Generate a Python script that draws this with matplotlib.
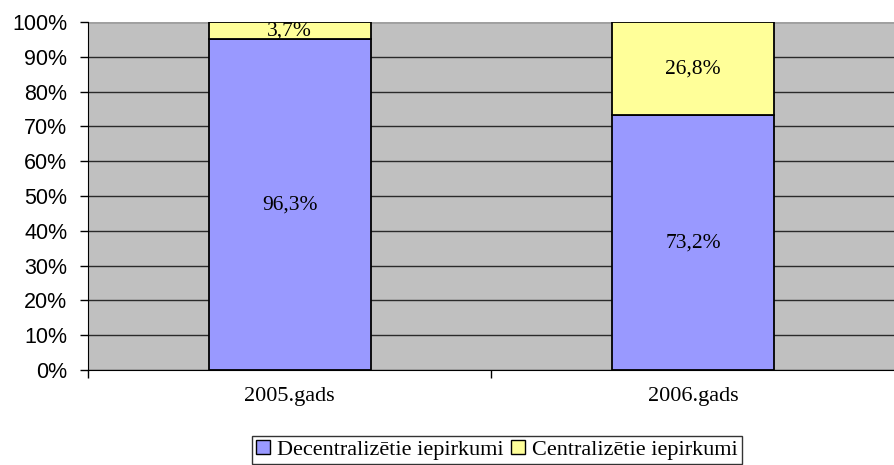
import matplotlib
matplotlib.use("Agg")
import matplotlib.pyplot as plt
from matplotlib.patches import Patch
import numpy as np

categories = ["2005.gads", "2006.gads"]
decentral = [95.0, 73.2]
central = [5.0, 26.8]
decentral_labels = ["96,3%", "73,2%"]
central_labels = ["3,7%", "26,8%"]
series_names = ["Decentralizētie iepirkumi", "Centralizētie iepirkumi"]
yticks = [0, 10, 20, 30, 40, 50, 60, 70, 80, 90, 100]

fig = plt.figure(figsize=(8.95, 4.65), dpi=100)
ax = fig.add_axes([88/895, (465-370)/465, (895-88)/895, 348/465])
ax.set_facecolor("#c0c0c0")

x = np.arange(len(categories))
w = 165/410
ax.bar(x, decentral, w, color="#9999ff", edgecolor="black", linewidth=1.3, zorder=3)
ax.bar(x, central, w, bottom=decentral, color="#ffff99", edgecolor="black", linewidth=1.3, zorder=3)

for i in range(len(categories)):
    ax.text(x[i], decentral[i]/2, decentral_labels[i], ha="center", va="center",
            fontfamily="Liberation Serif", fontsize=15.5, zorder=4)
    ax.text(x[i], decentral[i] + central[i]/2, central_labels[i], ha="center", va="center",
            fontfamily="Liberation Serif", fontsize=15.5, zorder=4)

ax.set_ylim(0, 100)
ax.set_xlim(-(291.5-88)/410, (895-291.5)/410)
ax.set_yticks(yticks)
ax.set_yticklabels([f"{v}%" for v in yticks], fontfamily="Liberation Sans", fontsize=15.5)
ax.yaxis.grid(True, color="#2a2a2a", linewidth=1.0, zorder=1)
ax.tick_params(axis="y", direction="out", length=6, width=1, pad=9)

ax.set_xticks([-0.5, 0.5, 1.5], minor=False)
ax.set_xticklabels([])
ax.set_xticks(x, minor=True)
ax.set_xticklabels(categories, minor=True, fontfamily="Liberation Serif", fontsize=16)
ax.tick_params(axis="x", which="major", direction="out", length=6, width=1)
ax.tick_params(axis="x", which="minor", length=0, pad=12)

for s in ["top", "right"]:
    ax.spines[s].set_visible(False)
ax.spines["left"].set_color("black")
ax.spines["bottom"].set_color("black")
ax.axhline(100, color="#a0a0a0", linewidth=1, zorder=2)

handles = [Patch(facecolor="#9999ff", edgecolor="black"), Patch(facecolor="#ffff99", edgecolor="black")]
leg = fig.legend(handles, series_names, loc="upper center", bbox_to_anchor=(497/895, (465-436)/465),
                 ncol=2, frameon=True, fancybox=False, edgecolor="black",
                 prop={"family": "Liberation Serif", "size": 16},
                 handlelength=0.6, handleheight=0.55, handletextpad=0.32, columnspacing=0.36,
                 borderpad=0.2, borderaxespad=0)
leg.get_frame().set_linewidth(1)

fig.savefig("out.png", dpi=100)
